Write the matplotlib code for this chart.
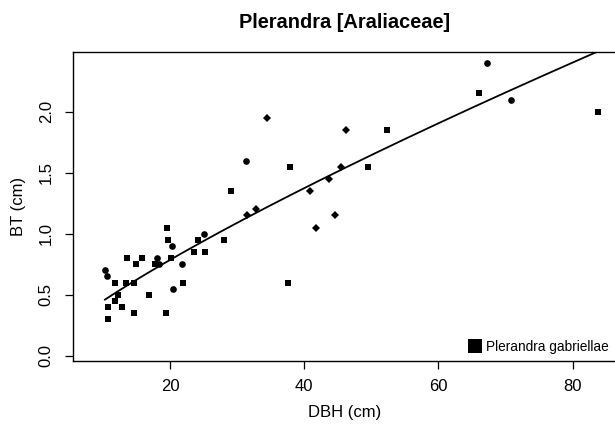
import numpy as np
import matplotlib
matplotlib.use("Agg")
import matplotlib.pyplot as plt

plt.rcParams['font.family'] = ['Liberation Sans', 'DejaVu Sans']

title = "Plerandra [Araliaceae]"
xlabel = "DBH (cm)"
ylabel = "BT (cm)"
legend_label = "Plerandra gabriellae"

# squares (Plerandra gabriellae)
sq_dbh = [10.7, 10.8, 11.8, 11.8, 12.3, 12.8, 13.4, 13.6, 14.7, 14.7, 15.0, 15.8,
          16.9, 17.7, 19.55, 19.75, 20.1, 19.45, 22.0, 23.6, 24.2, 25.2, 37.9,
          29.05, 28.05, 37.6, 49.55, 52.3, 66.0, 83.8]
sq_bt = [0.40, 0.30, 0.45, 0.60, 0.50, 0.40, 0.60, 0.80, 0.60, 0.35, 0.75, 0.80,
         0.50, 0.75, 1.05, 0.95, 0.80, 0.35, 0.60, 0.85, 0.95, 0.85, 1.55,
         1.35, 0.95, 0.60, 1.55, 1.85, 2.15, 2.00]

# circles
ci_dbh = [10.3, 10.6, 18.1, 18.3, 20.25, 20.45, 21.8, 25.1, 31.3, 67.3, 70.8]
ci_bt = [0.70, 0.65, 0.80, 0.75, 0.90, 0.55, 0.75, 1.00, 1.60, 2.40, 2.10]

# diamonds
di_dbh = [34.4, 31.5, 32.8, 40.8, 43.7, 45.5, 41.8, 44.6, 46.2]
di_bt = [1.95, 1.15, 1.20, 1.35, 1.45, 1.55, 1.05, 1.15, 1.85]

# power-law fit BT = a * DBH^b
fit_a = 0.070
fit_b = 0.807

x_ticks = [20, 40, 60, 80]
y_ticks = [0.0, 0.5, 1.0, 1.5, 2.0]

W, H = 615, 426
fig = plt.figure(figsize=(W / 100, H / 100), dpi=100)
ax = fig.add_axes([73.3 / W, (H - 361.3) / H, (617 - 73.3) / W, (361.3 - 52) / H])

ax.plot(sq_dbh, sq_bt, linestyle='none', marker='s', ms=4.3, mew=0, color='black',
        label=legend_label)
ax.plot(ci_dbh, ci_bt, linestyle='none', marker='o', ms=4.8, mew=0, color='black')
ax.plot(di_dbh, di_bt, linestyle='none', marker='D', ms=4.0, mew=0, color='black')

all_x = np.array(sq_dbh + ci_dbh + di_dbh)
xs = np.linspace(all_x.min(), all_x.max(), 200)
ax.plot(xs, fit_a * xs ** fit_b, color='black', lw=1.3)

ax.set_xlim(5.59, 86.6)
ax.set_ylim(-0.046, 2.49)
ax.set_xticks(x_ticks)
ax.set_xticklabels([str(v) for v in x_ticks], fontsize=12)
ax.set_yticks(y_ticks)
ax.set_yticklabels([f"{v:.1f}" for v in y_ticks], fontsize=12, rotation=90, va='center')
ax.tick_params(axis='both', length=6, width=0.9, color='black', pad=7)
ax.tick_params(axis='y', pad=8)
for s in ['left', 'bottom', 'top']:
    ax.spines[s].set_linewidth(1.0)
    ax.spines[s].set_color('black')
ax.spines['right'].set_visible(False)

fig.text(345 / W, 1 - 22 / H, title, ha='center', va='center', fontsize=14.4,
         fontweight='bold')
fig.text(345 / W, 1 - 413 / H, xlabel, ha='center', va='center', fontsize=12)
fig.text(19 / W, 1 - 206.5 / H, ylabel, ha='center', va='center', fontsize=12,
         rotation=90)

leg = ax.legend(loc='lower right', bbox_to_anchor=(609 / W, (H - 354) / H),
                bbox_transform=fig.transFigure, frameon=False, fontsize=9.8,
                handlelength=0.9, handletextpad=0.4, borderpad=0, borderaxespad=0,
                markerscale=2.2)

fig.savefig("out.png", dpi=100)
